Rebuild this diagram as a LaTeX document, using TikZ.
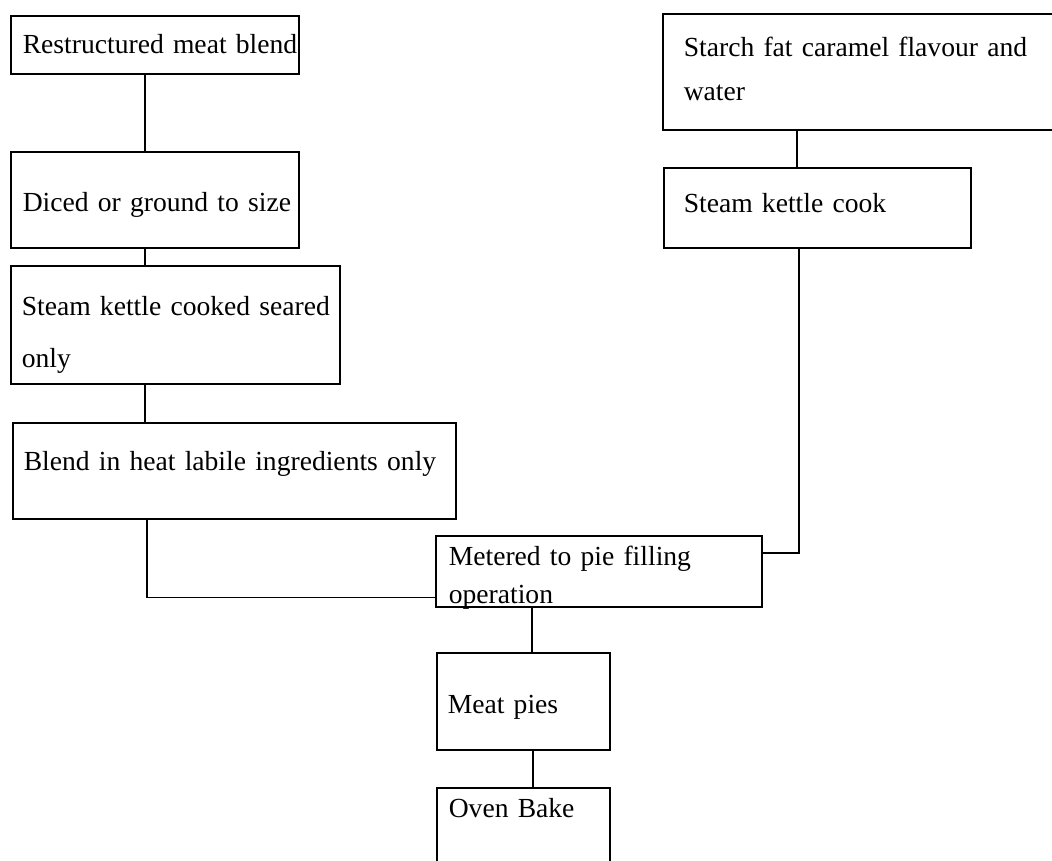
\documentclass[tikz,border=0pt]{standalone}
\usepackage{fontspec}
\setmainfont{Liberation Serif}
\tikzset{
	stepbox/.style={draw, line width=1.6pt, anchor=north west, inner ysep=0pt, align=left, font=\fontsize{27.6}{34}\selectfont},
	linegap/.style={font=\fontsize{27.6}{#1}\selectfont},
	link/.style={draw, line width=1.6pt},
}
\begin{document}
\begin{tikzpicture}[x=1pt, y=-1pt]
	\useasboundingbox (0,0) rectangle (1052,860);
		% meat side
		\node[stepbox, inner xsep=12pt, text width=264pt, text height=38pt, text depth=20pt] (blend) at (10,15) {\mbox{Restructured meat blend}};
		\node[stepbox, inner xsep=12pt, text width=264pt, text height=60pt, text depth=36pt] (diced) at (10,151) {\mbox{Diced or ground to size}};
		\node[stepbox, linegap=52, inner xsep=11pt, text width=307pt, text height=50pt, text depth=68pt] (seared) at (10,265) {\mbox{Steam kettle cooked seared}\\only};
		\node[stepbox, inner xsep=11pt, text width=421pt, text height=48pt, text depth=48pt] (labile) at (12,422) {\mbox{Blend in heat labile ingredients only}};
		% sauce side
		\node[stepbox, linegap=44, inner xsep=21pt, text width=360pt, text height=43pt, text depth=73pt] (starch) at (662,13) {\mbox{Starch fat caramel flavour and}\\water};
		\node[stepbox, inner xsep=20pt, text width=267pt, text height=45pt, text depth=35pt] (cook) at (663,167) {Steam kettle cook};
		% filling and baking
		\node[stepbox, linegap=38, inner xsep=13pt, text width=300pt, text height=30pt, text depth=41pt] (metered) at (435,535) {\mbox{Metered to pie filling}\\operation};
		\node[stepbox, inner xsep=11pt, text width=151pt, text height=61pt, text depth=36pt] (pies) at (436,652) {Meat pies};
		\node[stepbox, inner xsep=12pt, text width=149pt, text height=30pt, text depth=90pt] (oven) at (436,787) {Oven Bake};
		\path[link] ([xshift=135pt]blend.south west) edge ([xshift=135pt]diced.north west);
		\path[link] ([xshift=135pt]diced.south west) edge ([xshift=135pt]seared.north west);
		\path[link] ([xshift=135pt]seared.south west) edge ([xshift=133pt]labile.north west);
		\path[link] ([xshift=135pt]starch.south west) edge ([xshift=134pt]cook.north west);
		\draw[link] ([xshift=135pt]labile.south west) |- ([yshift=10pt]metered.south west);
		\draw[link] ([xshift=136pt]cook.south west) |- ([yshift=-18pt]metered.north east);
		\path[link] ([xshift=97pt]metered.south west) edge ([xshift=96pt]pies.north west);
		\path[link] ([xshift=97pt]pies.south west) edge ([xshift=97pt]oven.north west);
\end{tikzpicture}
\end{document}
